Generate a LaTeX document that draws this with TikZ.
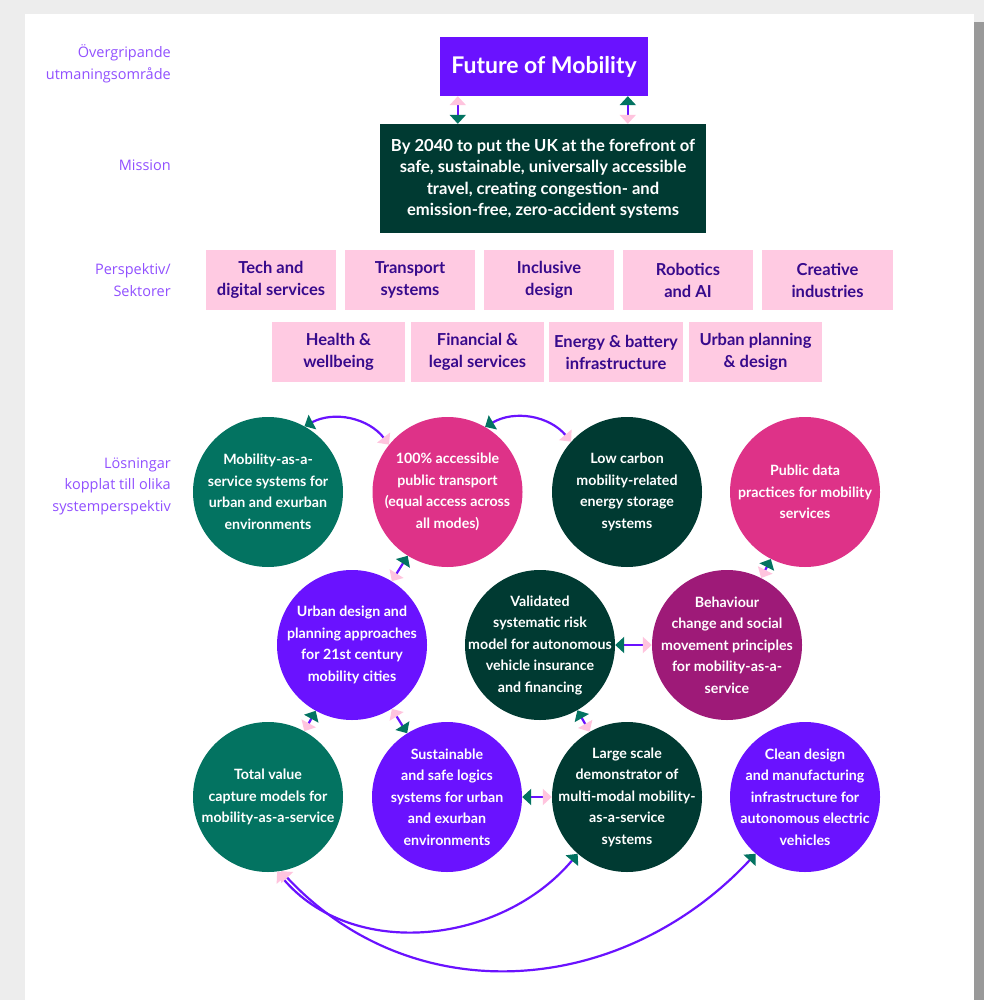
\documentclass[tikz,border=0pt]{standalone}
\usepackage{fontspec}
\setmainfont{Lato}
\newfontfamily\sidefont{Open Sans}
\usepackage{tikz}
\usetikzlibrary{arrows.meta,positioning,calc}
\definecolor{mobpurple}{RGB}{106,18,255}
\definecolor{mobdark}{RGB}{0,58,50}
\definecolor{mobteal}{RGB}{3,115,97}
\definecolor{mobpink}{RGB}{222,50,136}
\definecolor{mobplum}{RGB}{158,26,120}
\definecolor{mobblush}{RGB}{255,202,226}
\definecolor{mobtip}{RGB}{255,196,222}
\definecolor{mobink}{RGB}{55,10,140}
\definecolor{mobside}{RGB}{145,80,255}

\begin{document}
\begin{tikzpicture}[x=1pt,y=-1pt,
  sidelabel/.style={font=\sidefont\fontsize{14.5}{21.5}\selectfont, text=mobside,
    align=right, anchor=east, inner sep=0pt},
  sectorbox/.style={fill=mobblush, minimum height=60pt, inner sep=0pt, align=center,
    text=mobink, font=\bfseries\fontsize{16.5}{22}\selectfont},
  solution/.style={circle, minimum size=150pt, inner sep=0pt},
  soltext/.style={align=center, text=white, inner sep=0pt,
    font=\bfseries\fontsize{14.2}{21.5}\selectfont},
  link/.style={draw=mobpurple, line width=2.2pt,
    {Triangle[length=9pt,width=16pt,color=mobtip]}-{Triangle[length=9pt,width=16pt,color=mobteal]}}]
  \useasboundingbox (0,0) rectangle (984,1000);
  % page and its shadow
  \fill[black!7] (0,0) rectangle (984,1000);
  \fill[black!40] (974,22) rectangle (984,1000);
  \fill[white] (25,14) rectangle (974,1000);

  % row labels on the left
  \node[sidelabel] (lbltop) at (171,64) {Övergripande\\utmaningsområde};
  \node[sidelabel] (lblmission) at (171,165) {Mission};
  \node[sidelabel] (lblsector) at (171,280) {Perspektiv/\\Sektorer};
  \node[sidelabel] (lblsolution) at (171,486) {Lösningar\\kopplat till olika\\systemperspektiv};

  % challenge and mission
  \node[fill=mobpurple, text=white, minimum width=208pt, minimum height=59pt,
        font=\bfseries\fontsize{23}{28}\selectfont] (fom) at (544,66.5) {Future of Mobility};
  \node[fill=mobdark, text=white, minimum width=326pt, minimum height=109pt, align=center,
        font=\bfseries\fontsize{16.6}{21.5}\selectfont] (mission) at (543,178.5)
        {By 2040 to put the UK at the forefront of\\safe, sustainable, universally accessible\\travel, creating congestion- and\\emission-free, zero-accident systems};

  % sectors, two rows
  \foreach \nm/\cx/\cy/\w/\txt in {
      tech/271/280/130/{Tech and\\digital services},
      transport/410/280/130/{Transport\\systems},
      inclusive/549/280/130/{Inclusive\\design},
      robotics/688/280/130/{Robotics\\and AI},
      creative/827.5/280/131/{Creative\\industries},
      health/338.5/352/133/{Health \&\\wellbeing},
      finance/477.5/352/133/{Financial \&\\legal services},
      energy/616/352/134/{Energy \& battery\\infrastructure},
      planning/755.5/352/133/{Urban planning\\\& design}} {
    \node[sectorbox, minimum width=\w pt] (\nm) at (\cx,\cy) {\txt};
  }

  % solutions
  \foreach \nm/\cx/\cy/\col/\txt in {
      maas/268/492/mobteal/{Mobility-as-a-\\service systems for\\urban and exurban\\environments},
      access/447.5/492/mobpink/{100\% accessible\\public transport\\(equal access across\\all modes)},
      lowc/627/492/mobdark/{Low carbon\\mobility-related\\energy storage\\systems},
      pubdata/805/492/mobpink/{Public data\\practices for mobility\\services},
      urban/352/645/mobpurple/{Urban design and\\planning approaches\\for 21st century\\mobility cities},
      valid/540/645/mobdark/{Validated\\systematic risk\\model for autonomous\\vehicle insurance\\and financing},
      behav/727/645/mobplum/{Behaviour\\change and social\\movement principles\\for mobility-as-a-\\service},
      total/268/797/mobteal/{Total value\\capture models for\\mobility-as-a-service},
      sust/447/797/mobpurple/{Sustainable\\and safe logics\\systems for urban\\and exurban\\environments},
      large/627/797/mobdark/{Large scale\\demonstrator of\\multi-modal mobility-\\as-a-service\\systems},
      clean/805/797/mobpurple/{Clean design\\and manufacturing\\infrastructure for\\autonomous electric\\vehicles}} {
    \node[solution, fill=\col] (\nm) at (\cx,\cy) {};
    \node[soltext] at (\nm) {\txt};
  }

  % links: pink end first, teal end last
  \draw[link] ([xshift=18pt]fom.south west) -- ([xshift=78pt]mission.north west);
  \draw[link] ([xshift=248pt]mission.north west) -- ([xshift=188pt]fom.south west);
  \draw[link] (access.141) to[bend right=40] (maas.61);
  \draw[link] (lowc.138) to[bend right=40] (access.60);
  \draw[link] (urban) -- (access);
  \draw[link] (behav) -- (pubdata);
  \draw[link] (behav) -- (valid);
  \draw[link] (total) -- (urban);
  \draw[link] (urban) -- (sust);
  \draw[link] (large) -- (valid);
  \draw[link] (large) -- (sust);
  \draw[link] (total.277) to[out=-50,in=230] (large.229);
  \draw[link] (total.280) to[out=-47,in=227,looseness=1.05] (clean.229);
\end{tikzpicture}
\end{document}
